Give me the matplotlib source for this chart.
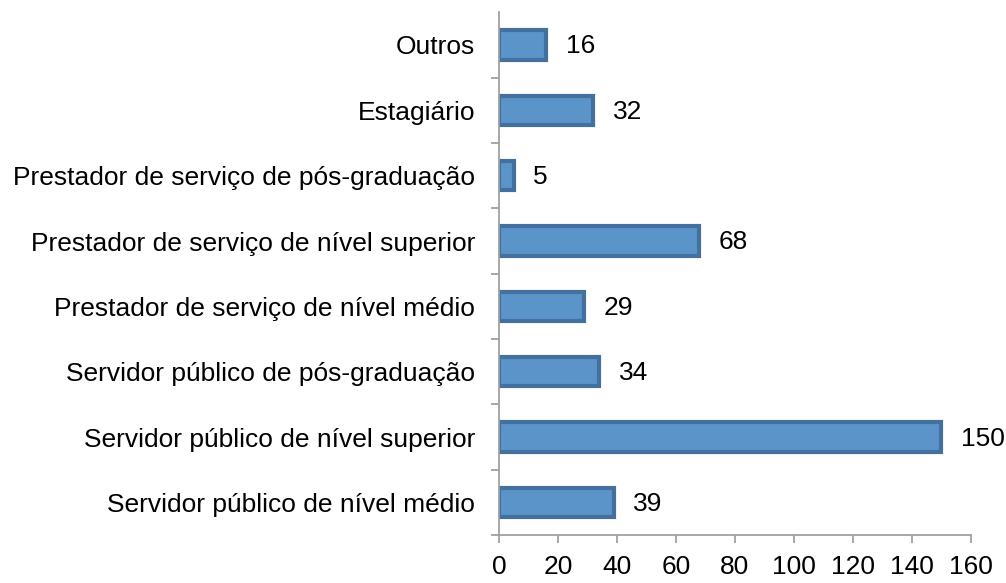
import matplotlib.pyplot as plt

categories = ['Servidor público de nível médio',
              'Servidor público de nível superior',
              'Servidor público de pós-graduação',
              'Prestador de serviço de nível médio',
              'Prestador de serviço de nível superior',
              'Prestador de serviço de pós-graduação',
              'Estagiário',
              'Outros']
values = [39, 150, 34, 29, 68, 5, 32, 16]
xticks = [0, 20, 40, 60, 80, 100, 120, 140, 160]

plt.rcParams['font.family'] = 'Liberation Sans'

fig = plt.figure(figsize=(10.06, 5.83), dpi=100)
ax = fig.add_axes([0.496, 0.082, 0.469, 0.897])

ypos = range(len(categories))
bars = ax.barh(ypos, values, height=0.45, color='#5B94C9',
               edgecolor='#43709F', linewidth=3)

for y, v in zip(ypos, values):
    ax.annotate(str(v), (v, y), xytext=(14, -1), textcoords='offset points',
                va='center', ha='left', fontsize=19)

ax.set_xlim(0, 160)
ax.set_ylim(-0.5, len(categories) - 0.5)
ax.set_xticks(xticks)
ax.set_yticks([y + 0.5 for y in ypos][:-1] + [-0.5], minor=False)
ax.set_yticklabels([])
ax.set_yticks(list(ypos), minor=True)
ax.set_yticklabels(categories, minor=True, fontsize=19)
ax.tick_params(axis='y', which='minor', length=0, pad=17)
ax.tick_params(axis='y', which='major', length=6, color='#A0A0A0', width=1.3)
ax.tick_params(axis='x', length=6, color='#A0A0A0', width=1.3, labelsize=19, pad=8)

for s in ['top', 'right']:
    ax.spines[s].set_visible(False)
for s in ['left', 'bottom']:
    ax.spines[s].set_color('#A0A0A0')
    ax.spines[s].set_linewidth(1.3)

fig.savefig('out.png', dpi=100)
